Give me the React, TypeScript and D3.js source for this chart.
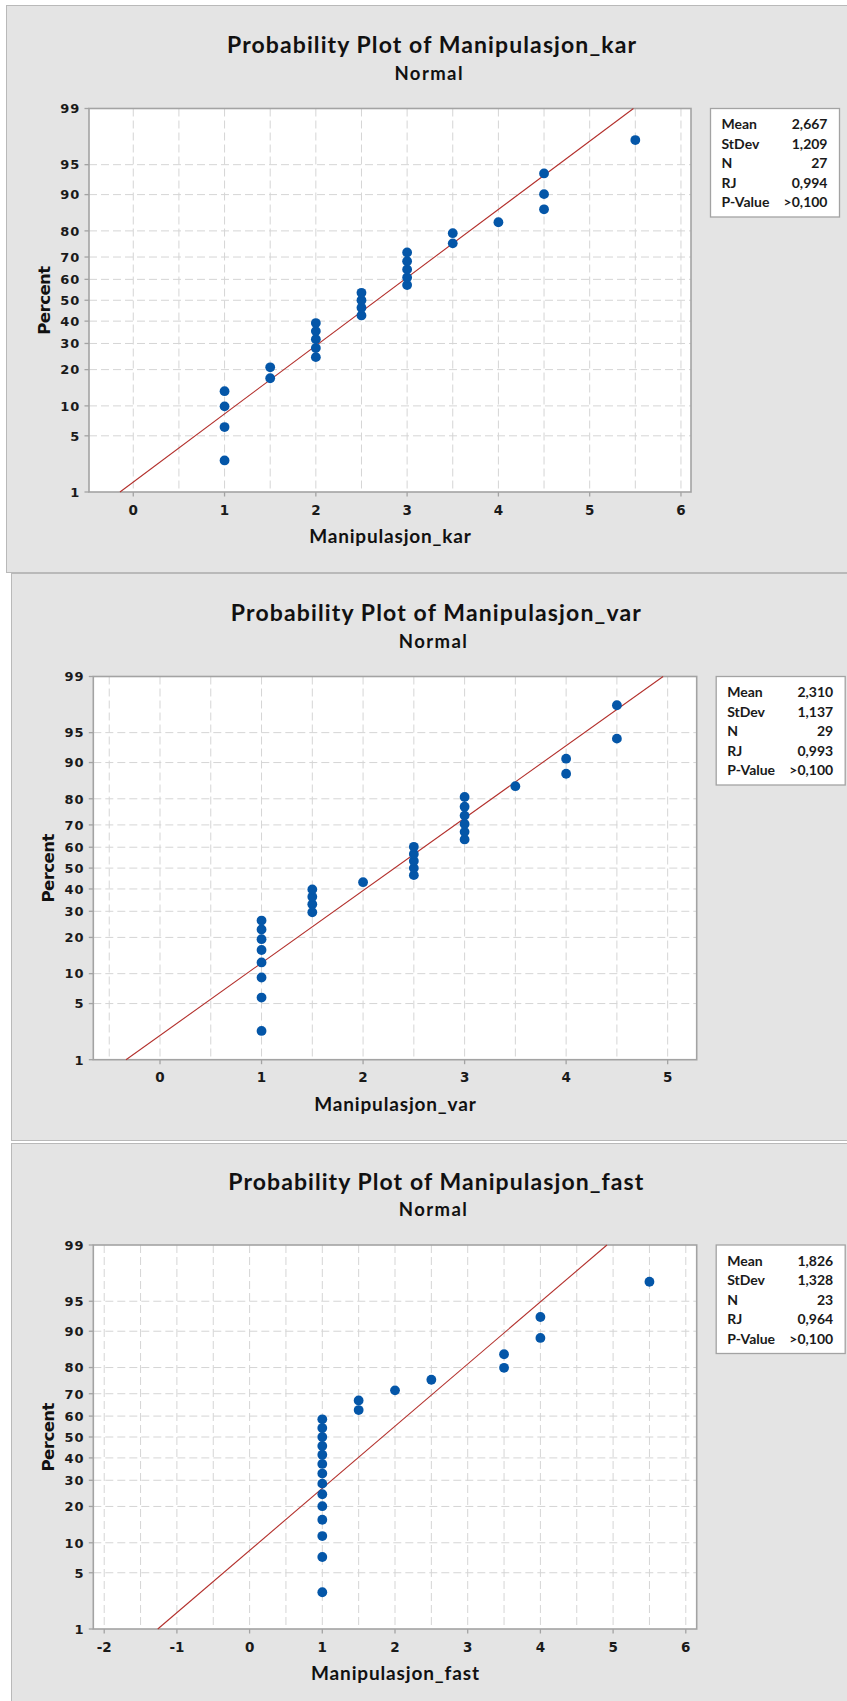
import React from "react";
import * as d3 from "d3";

// ---------- data ----------
const statLabels = ["Mean", "StDev", "N", "RJ", "P-Value"];
const yTickValues = [1, 5, 10, 20, 30, 40, 50, 60, 70, 80, 90, 95, 99];
const subtitleText = "Normal";
const yLabelText = "Percent";

const karTitle = "Probability Plot of Manipulasjon_kar";
const karXLabel = "Manipulasjon_kar";
const karValues = [1, 1, 1, 1, 1.5, 1.5, 2, 2, 2, 2, 2, 2.5, 2.5, 2.5, 2.5, 3, 3, 3, 3, 3, 3.5, 3.5, 4, 4.5, 4.5, 4.5, 5.5];
const karPercents = [2.6, 6.2, 9.9, 13.5, 17.2, 20.8, 24.5, 28.1, 31.8, 35.4, 39.1, 42.7, 46.4, 50.0, 53.6, 57.3, 60.9, 64.6, 68.2, 71.9, 75.5, 79.2, 82.8, 86.5, 90.1, 93.8, 97.4];
const karMean = 2.667;
const karStDev = 1.209;
const karStats = ["2,667", "1,209", "27", "0,994", ">0,100"];

const varTitle = "Probability Plot of Manipulasjon_var";
const varXLabel = "Manipulasjon_var";
const varValues = [1, 1, 1, 1, 1, 1, 1, 1, 1.5, 1.5, 1.5, 1.5, 2, 2.5, 2.5, 2.5, 2.5, 2.5, 3, 3, 3, 3, 3, 3, 3.5, 4, 4, 4.5, 4.5];
const varPercents = [2.4, 5.8, 9.2, 12.6, 16.0, 19.4, 22.8, 26.2, 29.6, 33.0, 36.4, 39.8, 43.2, 46.6, 50.0, 53.4, 56.8, 60.2, 63.6, 67.0, 70.4, 73.8, 77.2, 80.6, 84.0, 87.4, 90.8, 94.2, 97.6];
const varMean = 2.31;
const varStDev = 1.137;
const varStats = ["2,310", "1,137", "29", "0,993", ">0,100"];

const fastTitle = "Probability Plot of Manipulasjon_fast";
const fastXLabel = "Manipulasjon_fast";
const fastValues = [1, 1, 1, 1, 1, 1, 1, 1, 1, 1, 1, 1, 1, 1, 1.5, 1.5, 2, 2.5, 3.5, 3.5, 4, 4, 5.5];
const fastPercents = [3.0, 7.3, 11.5, 15.8, 20.1, 24.4, 28.6, 32.9, 37.2, 41.5, 45.7, 50.0, 54.3, 58.5, 62.8, 67.1, 71.4, 75.6, 79.9, 84.2, 88.5, 92.7, 97.0];
const fastMean = 1.826;
const fastStDev = 1.328;
const fastStats = ["1,826", "1,328", "23", "0,964", ">0,100"];

// ---------- layout ----------
const frames = [
  { panel: { x: 6, y: 5, h: 567 }, left: 89, top: 108.5, width: 602, height: 383.5, xDomain: [-0.485, 6.11], titleLen: 409, xLabelLen: 161.6 },
  { panel: { x: 11, y: 573, h: 567 }, left: 93.3, top: 676.5, width: 603.4, height: 383.2, xDomain: [-0.657, 5.286], titleLen: 410, xLabelLen: 161.5 },
  { panel: { x: 11, y: 1143, h: 600 }, left: 93.3, top: 1245, width: 603.4, height: 384, xDomain: [-2.15, 6.15], titleLen: 415, xLabelLen: 168 },
];

// inverse standard normal CDF (Acklam)
function qnorm(p: number): number {
  const a = [-3.969683028665376e1, 2.209460984245205e2, -2.759285104469687e2, 1.38357751867269e2, -3.066479806614716e1, 2.506628277459239];
  const b = [-5.447609879822406e1, 1.615858368580409e2, -1.556989798598866e2, 6.680131188771972e1, -1.328068155288572e1];
  const c = [-7.784894002430293e-3, -3.223964580411365e-1, -2.400758277161838, -2.549732539343734, 4.374664141464968, 2.938163982698783];
  const d = [7.784695709041462e-3, 3.224671290700398e-1, 2.445134137142996, 3.754408661907416];
  const pl = 0.02425;
  if (p < pl) {
    const q = Math.sqrt(-2 * Math.log(p));
    return (((((c[0] * q + c[1]) * q + c[2]) * q + c[3]) * q + c[4]) * q + c[5]) / ((((d[0] * q + d[1]) * q + d[2]) * q + d[3]) * q + 1);
  }
  if (p <= 1 - pl) {
    const q = p - 0.5;
    const r = q * q;
    return ((((((a[0] * r + a[1]) * r + a[2]) * r + a[3]) * r + a[4]) * r + a[5]) * q) / (((((b[0] * r + b[1]) * r + b[2]) * r + b[3]) * r + b[4]) * r + 1);
  }
  const q = Math.sqrt(-2 * Math.log(1 - p));
  return -(((((c[0] * q + c[1]) * q + c[2]) * q + c[3]) * q + c[4]) * q + c[5]) / ((((d[0] * q + d[1]) * q + d[2]) * q + d[3]) * q + 1);
}

const TITLE_FONT = "Lato, 'Open Sans', sans-serif";
const TICK_FONT = "'DejaVu Sans', Verdana, sans-serif";

type PlotProps = {
  frame: any;
  title: string;
  xLabel: string;
  values: number[];
  percents: number[];
  mean: number;
  sd: number;
  stats: string[];
};

function ProbPlot({ frame, title, xLabel, values, percents, mean, sd, stats }: PlotProps) {
  const { left, top, width, height, xDomain, panel } = frame;
  const right = left + width;
  const bottom = top + height;
  const x = d3.scaleLinear().domain(xDomain).range([left, right]);
  const zScale = d3.scaleLinear().domain([qnorm(0.01), qnorm(0.99)]).range([bottom, top]);
  const y = (p: number) => zScale(qnorm(p / 100));
  const xTicks = d3.range(Math.ceil(xDomain[0]), Math.floor(xDomain[1]) + 1);
  const xGrid = d3.range(Math.ceil(xDomain[0] * 2) / 2, xDomain[1], 0.5);
  const fitPts = [yTickValues[0], yTickValues[yTickValues.length - 1]].map((p) => ({ v: mean + sd * qnorm(p / 100), p }));
  const fitLine = d3
    .line<{ v: number; p: number }>()
    .x((d) => x(d.v))
    .y((d) => y(d.p));
  const legX = right + 19.5;
  const legW = 129;
  const legH = 108.5;

  return (
    <g>
      <rect x={panel.x + 0.5} y={panel.y + 0.5} width={900} height={panel.h} fill="#e4e4e4" stroke="#b9b9b9" strokeWidth={1} />
      <text x={left + 342.5} y={top - 55.5} textAnchor="middle" fontFamily={TITLE_FONT} fontWeight={700} fontSize={23} fill="#111" textLength={frame.titleLen} lengthAdjust="spacing">
        {title}
      </text>
      <text x={left + 339.5} y={top - 29} textAnchor="middle" fontFamily={TITLE_FONT} fontWeight={700} fontSize={18.5} fill="#111" textLength={68} lengthAdjust="spacing">
        {subtitleText}
      </text>
      <rect x={left} y={top} width={width} height={height} fill="#ffffff" />
      {xGrid.map((g) => (
        <line key={"vg" + g} x1={x(g)} x2={x(g)} y1={top} y2={bottom} stroke="#d5d5d5" strokeWidth={1} strokeDasharray="8,4" />
      ))}
      {yTickValues.slice(1, -1).map((p) => (
        <line key={"hg" + p} x1={left} x2={right} y1={y(p)} y2={y(p)} stroke="#d5d5d5" strokeWidth={1} strokeDasharray="8,4" />
      ))}
      <rect x={left} y={top} width={width} height={height} fill="none" stroke="#a3a3a3" strokeWidth={1.6} />
      {xTicks.map((t) => (
        <g key={"xt" + t}>
          <line x1={x(t)} x2={x(t)} y1={bottom} y2={bottom + 4.5} stroke="#a3a3a3" strokeWidth={1.3} />
          <text x={x(t)} y={bottom + 22.5} textAnchor="middle" fontFamily={TICK_FONT} fontWeight={700} fontSize={13.5} fill="#1a1a1a">
            {t < 0 ? "-" + Math.abs(t) : String(t)}
          </text>
        </g>
      ))}
      {yTickValues.map((p) => (
        <g key={"yt" + p}>
          <line x1={left - 4.5} x2={left} y1={y(p)} y2={y(p)} stroke="#a3a3a3" strokeWidth={1.3} />
          <text x={left - 9} y={y(p) + 4.8} textAnchor="end" fontFamily={TICK_FONT} fontWeight={700} fontSize={13} letterSpacing={0.8} fill="#1a1a1a">
            {String(p)}
          </text>
        </g>
      ))}
      <path d={fitLine(fitPts) || ""} fill="none" stroke="#b3302c" strokeWidth={1.1} />
      {values.map((v, i) => (
        <circle key={"pt" + i} cx={x(v)} cy={y(percents[i])} r={4.9} fill="#0456a8" />
      ))}
      <text x={left + width / 2} y={bottom + 51} textAnchor="middle" fontFamily={TITLE_FONT} fontWeight={700} fontSize={19} fill="#111" textLength={frame.xLabelLen} lengthAdjust="spacing">
        {xLabel}
      </text>
      <text transform={`translate(${left - 39},${(top + bottom) / 2}) rotate(-90)`} textAnchor="middle" fontFamily={TICK_FONT} fontWeight={700} fontSize={16.5} fill="#111" textLength={69} lengthAdjust="spacing">
        {yLabelText}
      </text>
      <rect x={legX} y={top} width={legW} height={legH} fill="#ffffff" stroke="#a3a3a3" strokeWidth={1.3} />
      {statLabels.map((lab, i) => (
        <g key={"st" + lab}>
          <text x={legX + 11} y={top + 20.5 + i * 19.5} fontFamily={TITLE_FONT} fontWeight={700} fontSize={14} fill="#1a1a1a">
            {lab}
          </text>
          <text x={legX + legW - 12} y={top + 20.5 + i * 19.5} textAnchor="end" fontFamily={TITLE_FONT} fontWeight={700} fontSize={14} fill="#1a1a1a">
            {stats[i]}
          </text>
        </g>
      ))}
    </g>
  );
}

export default function App() {
  return (
    <div style={{ position: "absolute", left: 0, top: 0, width: 847, height: 1701, overflow: "hidden", background: "#fff" }}>
      <svg width={847} height={1701} viewBox="0 0 847 1701" style={{ display: "block" }}>
        <rect x={0} y={0} width={847} height={1701} fill="#ffffff" />
        <ProbPlot frame={frames[0]} title={karTitle} xLabel={karXLabel} values={karValues} percents={karPercents} mean={karMean} sd={karStDev} stats={karStats} />
        <ProbPlot frame={frames[1]} title={varTitle} xLabel={varXLabel} values={varValues} percents={varPercents} mean={varMean} sd={varStDev} stats={varStats} />
        <ProbPlot frame={frames[2]} title={fastTitle} xLabel={fastXLabel} values={fastValues} percents={fastPercents} mean={fastMean} sd={fastStDev} stats={fastStats} />
      </svg>
    </div>
  );
}
